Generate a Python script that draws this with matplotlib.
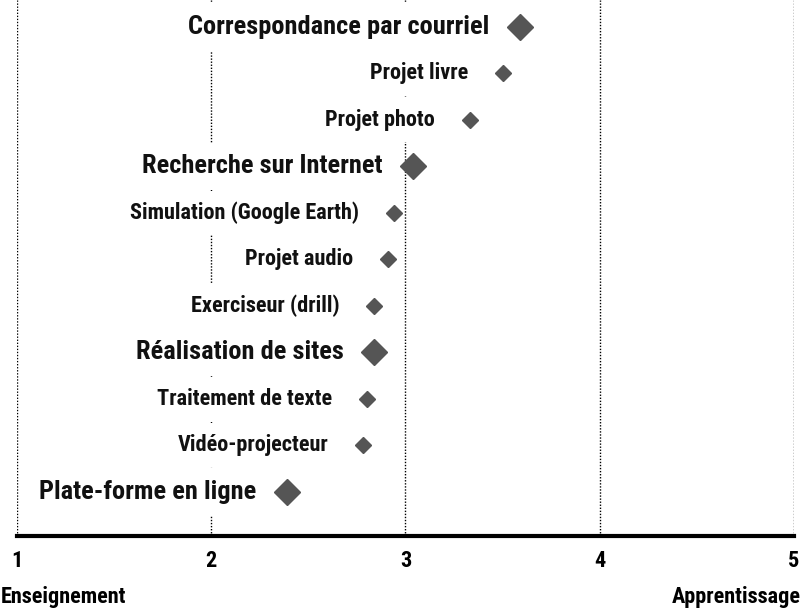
import matplotlib
matplotlib.use('Agg')
import matplotlib.pyplot as plt
from matplotlib import font_manager

# données (de haut en bas)
outils = ['Correspondance par courriel', 'Projet livre', 'Projet photo',
          'Recherche sur Internet', 'Simulation (Google Earth)', 'Projet audio',
          'Exerciseur (drill)', 'Réalisation de sites', 'Traitement de texte',
          'Vidéo-projecteur', 'Plate-forme en ligne']
scores = [3.59, 3.50, 3.33, 3.04, 2.94, 2.91, 2.84, 2.84, 2.80, 2.78, 2.39]
grand = [True, False, False, True, False, False, False, True, False, False, True]
ticks = [1, 2, 3, 4, 5]

# police étroite et grasse (genre Arial Narrow) si disponible
gras = {f.name for f in font_manager.fontManager.ttflist
        if f.weight in (700, 'bold') and '[' not in f.fname}
police = 'Liberation Sans'
for nom in ['Liberation Sans Narrow', 'Arial Narrow', 'Roboto Condensed',
            'Archivo Narrow', 'Asap Condensed', 'Barlow Semi Condensed']:
    if nom in gras:
        police = nom
        break
plt.rcParams['font.family'] = [police, 'DejaVu Sans']
plt.rcParams['font.weight'] = 'bold'

fig = plt.figure(figsize=(8.03, 6.09), dpi=100)
ax = fig.add_axes([17 / 803, 1 - 536 / 609, 777 / 803, 536 / 609])

# lignes verticales pointillées
for t in ticks:
    ax.axvline(t, color='black', lw=1, ls=(0, (1, 1.2)), zorder=1)

for i, (nom, s, g) in enumerate(zip(outils, scores, grand)):
    ms = 13 if g else 8.5
    fs = 19 if g else 16
    ax.plot(s, i, marker='D', ms=ms, color='#555555', mec='#555555', zorder=4)
    ax.annotate(nom, xy=(s, i), xytext=(-22 if g else -25, 0),
                textcoords='offset points', ha='right', va='center',
                fontsize=fs, fontweight='bold', color='#111111', zorder=3,
                bbox=dict(boxstyle='square,pad=0.45' if g else 'square,pad=0.5',
                          fc='white', ec='none'))

ax.set_xlim(1, 5)
ax.set_ylim(10.95, -0.58)
ax.set_yticks([])
ax.set_xticks(ticks)
ax.set_xticklabels([str(t) for t in ticks], fontsize=16, fontweight='bold')
ax.tick_params(axis='x', length=0, pad=10)
for sp in ['top', 'left', 'right']:
    ax.spines[sp].set_visible(False)
ax.spines['bottom'].set_linewidth(3)
ax.spines['bottom'].set_zorder(5)

fig.text(1 / 803, 1 - 597 / 609, 'Enseignement', ha='left', va='center',
         fontsize=16, fontweight='bold')
fig.text(801 / 803, 1 - 597 / 609, 'Apprentissage', ha='right', va='center',
         fontsize=16, fontweight='bold')

fig.savefig('out.png', dpi=100)
